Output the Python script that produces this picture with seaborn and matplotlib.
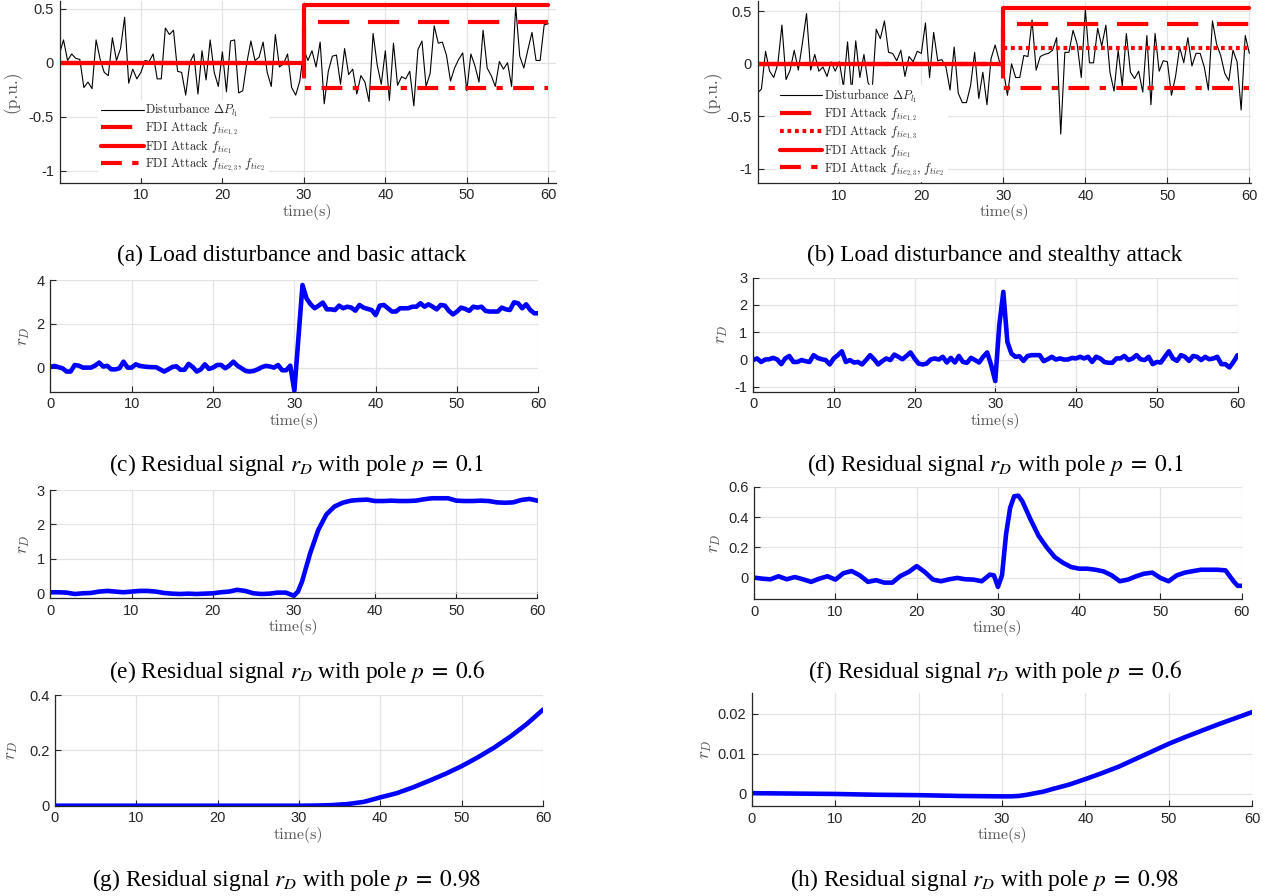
import numpy as np
import pandas as pd
import matplotlib
matplotlib.use("Agg")
import matplotlib.pyplot as plt
import seaborn as sns
from matplotlib.ticker import FuncFormatter

sns.set_theme(style="whitegrid")
plt.rcParams['font.family'] = ['Liberation Sans', 'DejaVu Sans']
plt.rcParams['axes.unicode_minus'] = False

W, H = 1271, 896

# ---- data ----
t_half = np.arange(0, 60.5, 0.5)

dist_a = [0.08, 0.21, 0.02, 0.08, 0.04, 0.03, -0.23, -0.18, -0.24, 0.21,
          0.03, -0.09, -0.12, 0.23, 0.02, 0.13, 0.42, -0.19, -0.06, -0.15,
          -0.09, 0.02, 0.01, 0.08, -0.15, -0.15, 0.32, 0.26, 0.30, -0.08,
          -0.09, -0.30, 0.00, 0.08, -0.29, 0.11, -0.16, 0.21, -0.09, -0.22,
          0.10, -0.27, 0.20, 0.21, -0.28, -0.26, 0.00, 0.20, 0.02, 0.05,
          0.19, -0.09, -0.22, 0.26, -0.04, -0.01, 0.08, -0.23, -0.30, -0.17,
          0.12, 0.02, 0.11, -0.04, 0.19, -0.38, -0.08, 0.06, 0.07, -0.20,
          0.13, -0.11, -0.06, -0.29, -0.12, -0.18, -0.36, 0.27, -0.02, -0.20,
          0.11, -0.35, 0.18, -0.21, -0.13, -0.15, -0.08, -0.40, 0.12, 0.20,
          -0.22, -0.10, 0.34, 0.18, 0.19, 0.07, -0.17, -0.05, 0.03, 0.09,
          -0.26, 0.08, -0.03, -0.18, 0.30, -0.05, -0.12, -0.22, 0.01, -0.06,
          0.00, -0.22, 0.52, 0.06, -0.05, 0.12, 0.28, 0.02, 0.02, 0.35,
          0.36]

dist_b = [-0.28, -0.24, 0.12, -0.07, -0.13, 0.00, 0.37, -0.15, -0.06, 0.13,
          -0.06, 0.20, 0.48, -0.06, 0.09, -0.07, -0.03, -0.12, 0.02, -0.07,
          0.02, -0.22, 0.21, -0.27, 0.22, -0.13, 0.09, -0.18, -0.25, 0.33,
          0.24, 0.41, 0.11, 0.10, 0.03, 0.13, -0.12, 0.07, 0.02, 0.12,
          0.10, 0.39, -0.13, 0.30, 0.03, 0.04, -0.03, -0.25, 0.16, -0.28,
          -0.37, -0.37, -0.21, 0.11, -0.33, -0.08, -0.39, 0.05, 0.18, 0.03,
          -0.06, -0.30, 0.00, -0.13, -0.13, 0.08, 0.07, 0.42, -0.06, 0.07,
          0.09, 0.10, 0.13, 0.25, -0.67, 0.11, 0.11, 0.32, 0.19, -0.13,
          0.52, 0.01, 0.01, 0.34, 0.17, 0.37, -0.08, -0.26, 0.13, -0.21,
          0.29, -0.08, -0.14, -0.07, -0.27, 0.27, -0.39, 0.29, -0.07, 0.03,
          0.02, -0.30, -0.12, 0.16, 0.01, 0.25, -0.02, 0.10, 0.10, -0.03,
          -0.25, 0.41, 0.19, 0.08, -0.09, -0.16, 0.13, 0.02, -0.44, 0.27,
          0.10]

res_c = [0.03, 0.08, 0.02, -0.03, -0.18, -0.18, 0.12, 0.09, 0.00, 0.00,
         0.00, 0.09, 0.23, 0.05, 0.08, -0.08, -0.08, -0.03, 0.27, 0.00,
         0.00, 0.15, 0.08, 0.05, 0.03, 0.02, 0.02, -0.08, -0.18, -0.08,
         0.03, 0.06, -0.10, -0.10, 0.17, 0.03, -0.18, -0.08, 0.15, -0.06,
         0.00, 0.12, 0.12, -0.03, 0.09, 0.27, 0.09, -0.03, -0.15, -0.18,
         -0.15, -0.08, 0.02, 0.08, 0.05, 0.00, 0.12, -0.12, -0.12, 0.09,
         -1.06, 1.35, 3.77, 3.16, 2.89, 2.71, 2.83, 2.97, 2.66, 2.66,
         2.63, 2.83, 2.71, 2.78, 2.74, 2.60, 2.86, 2.74, 2.68, 2.63,
         2.40, 2.83, 2.86, 2.71, 2.56, 2.56, 2.71, 2.71, 2.71, 2.78,
         2.78, 2.94, 2.78, 2.89, 2.78, 2.66, 2.86, 2.83, 2.59, 2.43,
         2.56, 2.74, 2.68, 2.59, 2.78, 2.74, 2.78, 2.59, 2.56, 2.56,
         2.56, 2.74, 2.66, 2.63, 2.98, 2.94, 2.71, 2.89, 2.63, 2.48,
         2.48]

res_d = [-0.02, 0.04, -0.09, 0.00, 0.01, 0.06, 0.00, -0.17, 0.04, 0.13,
         -0.09, -0.09, -0.02, -0.06, -0.09, 0.16, 0.06, 0.01, -0.02, -0.18,
         0.04, 0.16, 0.30, -0.09, -0.02, -0.11, -0.09, -0.18, -0.02, 0.16,
         0.01, -0.18, -0.06, 0.04, -0.02, 0.18, 0.10, 0.01, 0.13, 0.26,
         0.04, -0.15, -0.18, -0.15, 0.00, 0.04, 0.00, 0.10, -0.11, 0.06,
         -0.11, 0.13, -0.09, -0.12, 0.06, -0.02, -0.11, 0.10, 0.26, -0.21,
         -0.79, 1.26, 2.48, 0.65, 0.22, 0.10, 0.12, -0.05, 0.13, 0.16,
         0.16, 0.16, -0.06, 0.01, 0.10, 0.00, 0.04, 0.00, 0.00, 0.06,
         0.04, 0.10, 0.04, 0.10, -0.09, 0.10, 0.04, -0.09, -0.12, -0.12,
         0.04, 0.04, 0.13, -0.02, 0.04, 0.16, 0.01, -0.02, 0.10, -0.17,
         -0.09, -0.11, 0.10, 0.30, 0.04, -0.05, 0.16, 0.10, -0.05, 0.13,
         0.10, -0.02, 0.10, 0.01, 0.04, 0.10, -0.17, -0.17, -0.29, -0.09,
         0.16]

t_e = [0, 1, 2, 3, 4, 5, 6, 7, 8, 9, 10, 11, 12, 13, 14, 15, 16, 17, 18, 19,
       20, 21, 22, 23, 24, 25, 26, 27, 28, 29, 30, 30.5, 31, 32, 33, 34, 35,
       36, 37, 38, 39, 40, 41, 42, 43, 44, 45, 46, 47, 48, 49, 50, 51, 52,
       53, 54, 55, 56, 57, 58, 59, 60]
res_e = [0.03, 0.03, 0.02, -0.02, 0.00, 0.01, 0.05, 0.07, 0.05, 0.03,
         0.05, 0.07, 0.07, 0.05, 0.01, -0.01, -0.02, -0.01, -0.02, -0.01,
         0.00, 0.03, 0.05, 0.10, 0.07, 0.00, -0.02, -0.01, 0.02, 0.02,
         -0.07, 0.05, 0.34, 1.16, 1.84, 2.29, 2.52, 2.63, 2.69, 2.71,
         2.72, 2.68, 2.68, 2.69, 2.68, 2.68, 2.69, 2.73, 2.76, 2.76,
         2.76, 2.69, 2.68, 2.68, 2.69, 2.68, 2.64, 2.63, 2.64, 2.71,
         2.74, 2.69]

t_f = [0, 1, 2, 3, 4, 5, 6, 7, 8, 9, 10, 11, 12, 13, 14, 15, 16, 17, 18, 19,
       20, 21, 22, 23, 24, 25, 26, 27, 28, 29, 29.5, 30, 30.5, 31, 31.5, 32,
       32.5, 33, 34, 35, 36, 37, 38, 39, 40, 41, 42, 43, 44, 45, 46, 47, 48,
       49, 50, 51, 52, 53, 54, 55, 56, 57, 58, 59, 59.5, 60]
res_f = [0.000, -0.007, -0.011, 0.009, -0.011, 0.004, -0.011, -0.028, -0.007, 0.009,
         -0.013, 0.030, 0.043, 0.015, -0.028, -0.017, -0.033, -0.033, 0.011, 0.037,
         0.076, 0.037, -0.013, -0.024, -0.011, -0.002, -0.011, -0.013, -0.024, 0.020,
         0.015, -0.061, 0.015, 0.287, 0.461, 0.537, 0.541, 0.504, 0.385, 0.276,
         0.200, 0.135, 0.098, 0.070, 0.059, 0.059, 0.052, 0.041, 0.015, -0.024,
         -0.013, 0.009, 0.026, 0.033, -0.002, -0.024, 0.015, 0.033, 0.043, 0.052,
         0.052, 0.052, 0.048, -0.024, -0.054, -0.054]

t_g = [0, 10, 20, 30, 32, 34, 35, 36, 38, 40, 42, 44, 46, 48, 50, 52, 54, 56, 58, 60]
res_g = [0.0, 0.0, 0.0, 0.0, 0.0005, 0.002, 0.004, 0.006, 0.014, 0.030,
         0.045, 0.066, 0.090, 0.115, 0.143, 0.175, 0.210, 0.250, 0.295, 0.347]

t_h = [0, 5, 10, 15, 20, 25, 30, 31, 32, 33, 34, 35, 36, 38, 40, 42, 44, 46,
       48, 50, 52, 54, 56, 58, 60]
res_h = [0.0002, 0.0001, 0.0, -0.0002, -0.0003, -0.0005, -0.0006, -0.0006,
         -0.0005, -0.0002, 0.0002, 0.0006, 0.0012, 0.0023, 0.0037, 0.0052,
         0.0068, 0.0087, 0.0106, 0.0125, 0.0142, 0.0158, 0.0174, 0.0189, 0.0204]

attack_t = [0, 30, 60]
level_tie12 = 0.38
level_tie13 = 0.15
level_tie1 = 0.53
level_tie23 = -0.23

captions = [
    '(a) Load disturbance and basic attack',
    '(b) Load disturbance and stealthy attack',
    r'(c) Residual signal $r_D$ with pole $p\;=\;0.1$',
    r'(d) Residual signal $r_D$ with pole $p\;=\;0.1$',
    r'(e) Residual signal $r_D$ with pole $p\;=\;0.6$',
    r'(f) Residual signal $r_D$ with pole $p\;=\;0.6$',
    r'(g) Residual signal $r_D$ with pole $p\;=\;0.98$',
    r'(h) Residual signal $r_D$ with pole $p\;=\;0.98$',
]

RED = '#ff0000'
BLUE = '#0000ff'
TXT = '#262626'
LAB = '#555555'

fig = plt.figure(figsize=(W / 100, H / 100), dpi=100)


def add_ax(left, top, right, bottom):
    return fig.add_axes([left / W, 1 - bottom / H, (right - left) / W, (bottom - top) / H])


def style(ax, xlim, ylim, xticks, yticks, ylabel, ylab_off):
    ax.set_xlim(*xlim)
    ax.set_ylim(*ylim)
    ax.set_xticks(xticks)
    ax.set_yticks(yticks)
    fmt = FuncFormatter(lambda v, p: f'{v:g}')
    ax.xaxis.set_major_formatter(fmt)
    ax.yaxis.set_major_formatter(fmt)
    ax.grid(True, color='#e3e3e3', linewidth=0.9)
    ax.set_axisbelow(True)
    for s in ['top', 'right']:
        ax.spines[s].set_visible(False)
    for s in ['left', 'bottom']:
        ax.spines[s].set_color(TXT)
        ax.spines[s].set_linewidth(0.9)
    ax.tick_params(direction='in', length=4, width=0.8, colors=TXT,
                   labelsize=10.5, pad=4, left=True, bottom=True)
    ax.set_xlabel('time(s)', family='cmr10', fontsize=11.5, color=LAB, labelpad=1)
    ax.set_ylabel(ylabel, family='cmr10', math_fontfamily='cm', fontsize=12.5, color=LAB)
    pos = ax.get_position()
    ax.yaxis.set_label_coords(-ylab_off / (pos.width * W), 0.5)
    ax.set_facecolor('white')


def attack_lines(ax, dist, with_13):
    sns.lineplot(x=t_half, y=dist, ax=ax, color='black', linewidth=0.8,
                 estimator=None, sort=False, label=r'Disturbance $\Delta P_{l_1}$')
    sns.lineplot(x=attack_t, y=[0, level_tie12, level_tie12], ax=ax, color=RED,
                 linewidth=3, linestyle=(0, (7.5, 4.5)), drawstyle='steps-post',
                 estimator=None, sort=False, label=r'FDI Attack $f_{tie_{1,2}}$')
    if with_13:
        sns.lineplot(x=attack_t, y=[0, level_tie13, level_tie13], ax=ax, color=RED,
                     linewidth=3, linestyle=(0, (0.9, 0.9)), drawstyle='steps-post',
                     estimator=None, sort=False, label=r'FDI Attack $f_{tie_{1,3}}$')
    sns.lineplot(x=attack_t, y=[0, level_tie1, level_tie1], ax=ax, color=RED,
                 linewidth=3, drawstyle='steps-post',
                 estimator=None, sort=False, label=r'FDI Attack $f_{tie_1}$')
    sns.lineplot(x=attack_t, y=[0, level_tie23, level_tie23], ax=ax, color=RED,
                 linewidth=3, linestyle=(0, (5, 2.5, 1.5, 2.5)), drawstyle='steps-post',
                 estimator=None, sort=False, label=r'FDI Attack $f_{tie_{2,3}}$, $f_{tie_2}$')


def legend(ax, x, y):
    leg = ax.legend(loc='center left', bbox_to_anchor=(x, y), frameon=True,
                    fancybox=False, edgecolor='white', facecolor='white', framealpha=1,
                    handlelength=3.5, handletextpad=0.15, labelspacing=0.0,
                    borderpad=0.2, borderaxespad=0,
                    prop={'family': 'cmr10', 'size': 8.8})
    for txt in leg.get_texts():
        txt.set_math_fontfamily('cm')
        txt.set_color(TXT)


# (a)
ax = add_ax(59.6, 1, 555.6, 182.7)
attack_lines(ax, dist_a, False)
style(ax, (0.02, 60.9), (-1.11, 0.57), [10, 20, 30, 40, 50, 60], [-1, -0.5, 0, 0.5], '(p.u.)', 38)
legend(ax, 0.078, 0.245)

# (b)
ax = add_ax(757.5, 1, 1251, 183.3)
attack_lines(ax, dist_b, True)
style(ax, (0.02, 60.2), (-1.14, 0.6), [10, 20, 30, 40, 50, 60], [-1, -0.5, 0, 0.5], '(p.u.)', 36)
legend(ax, 0.04, 0.276)

residuals = [
    ((50.3, 280, 538.4, 391.7), t_half, res_c, (-1.1, 4), [0, 2, 4], 18),
    ((753, 277.7, 1237.5, 391.7), t_half, res_d, (-1.18, 3), [-1, 0, 1, 2, 3], 23),
    ((50.3, 490, 537.5, 598.3), t_e, res_e, (-0.145, 3), [0, 1, 2, 3], 18),
    ((754.2, 486.7, 1241.7, 599.3), t_f, res_f, (-0.143, 0.6), [0, 0.2, 0.4, 0.6], 31),
    ((54.9, 695, 543, 805.7), t_g, res_g, (0, 0.4), [0, 0.2, 0.4], 35),
    ((752, 693.3, 1252, 806), t_h, res_h, (-0.003, 0.0251), [0, 0.01, 0.02], 38),
]
for rect, tt, yy, ylim, yt, off in residuals:
    ax = add_ax(*rect)
    sns.lineplot(x=tt, y=yy, ax=ax, color=BLUE, linewidth=3.3, estimator=None, sort=False)
    style(ax, (0, 60), ylim, [0, 10, 20, 30, 40, 50, 60], yt, r'$r_D$', off)

cap_pos = [(292, 255), (995, 255), (297, 465), (995, 465),
           (297, 671), (995, 671), (287, 880), (985, 880)]
for (cx, cy), cap in zip(cap_pos, captions):
    fig.text(cx / W, 1 - cy / H, cap, ha='center', va='center', fontsize=16.8,
             family='Liberation Serif', math_fontfamily='stix', color='black')

fig.savefig('out.png', dpi=100)
